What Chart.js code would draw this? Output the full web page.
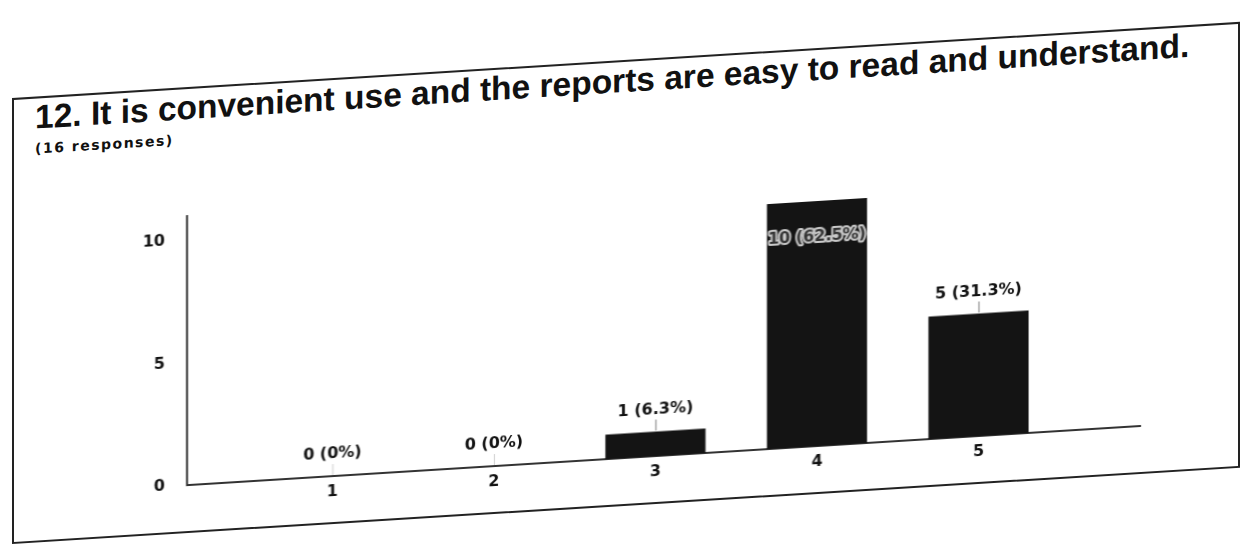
<!DOCTYPE html>
<html>
<head>
<meta charset="utf-8">
<script src="https://cdn.jsdelivr.net/npm/chart.js@4.4.1/dist/chart.umd.min.js"></script>
<style>
  html, body { margin: 0; background: #fff; }
  body { width: 1248px; height: 555px; overflow: hidden; position: relative; }
  /* the printed sheet sits slightly tilted */
  #sheet {
    position: absolute; left: 12px; top: 98px;
    width: 1228px; height: 446px; box-sizing: border-box;
    border: 2px solid #222;
    transform-origin: 0 0; transform: skewY(-3.55deg);
  }
  #title {
    position: absolute; left: 21px; top: 1.5px; white-space: nowrap;
    font: bold 33.5px/1 "Liberation Sans", Arial, sans-serif; color: #111;
  }
  #sub {
    position: absolute; left: 21px; top: 42.5px; white-space: nowrap;
    font: bold 14px/1 "DejaVu Sans", sans-serif; letter-spacing: 1.5px; color: #111;
  }
  #chart { position: absolute; left: 0; top: 0; }
</style>
</head>
<body>
<div id="sheet">
  <div id="title">12. It is convenient use and the reports are easy to read and understand.</div>
  <div id="sub">(16 responses)</div>
  <canvas id="chart" width="1224" height="442"></canvas>
</div>
<script>
const answers = ['1', '2', '3', '4', '5'];
const counts = [0, 0, 1, 10, 5];
const percents = ['0%', '0%', '6.3%', '62.5%', '31.3%'];
const yTicks = [0, 5, 10];

const tickFont = { family: 'DejaVu Sans', size: 16, weight: 'bold' };

// "n (p%)" above each bar, with a short leader line; put inside when it won't fit
const barLabels = {
  id: 'barLabels',
  afterDatasetsDraw(chart) {
    const ctx = chart.ctx;
    const top = chart.chartArea.top;
    ctx.save();
    ctx.font = 'bold 16px "DejaVu Sans"';
    ctx.textAlign = 'center';
    ctx.textBaseline = 'middle';
    ctx.lineJoin = 'round';
    chart.getDatasetMeta(0).data.forEach((bar, i) => {
      const text = counts[i] + ' (' + percents[i] + ')';
      let y = bar.y - 22;
      const inside = y - 10 < top;
      if (inside) {
        y = bar.y + 36;
      } else {
        ctx.strokeStyle = counts[i] ? '#777' : '#ccc';
        ctx.lineWidth = 1;
        ctx.beginPath();
        ctx.moveTo(bar.x + 0.5, bar.y - 1);
        ctx.lineTo(bar.x + 0.5, bar.y - 12);
        ctx.stroke();
      }
      ctx.lineWidth = 4;
      ctx.strokeStyle = inside ? '#c9c9c9' : '#fff';
      ctx.strokeText(text, bar.x, y);
      ctx.fillStyle = inside ? '#333' : '#111';
      ctx.fillText(text, bar.x, y);
    });
    ctx.restore();
  }
};

new Chart(document.getElementById('chart'), {
  type: 'bar',
  data: {
    datasets: [{
      data: answers.map((a, i) => ({ x: Number(a), y: counts[i] })),
      backgroundColor: '#141414',
      barPercentage: 0.62,
      categoryPercentage: 1
    }]
  },
  options: {
    responsive: false,
    animation: false,
    layout: { padding: { top: 126.5, right: 98, bottom: 6, left: 0 } },
    plugins: { legend: { display: false }, tooltip: { enabled: false } },
    scales: {
      x: {
        type: 'linear',
        offset: false,
        min: 0.1,
        max: 6,
        afterBuildTicks: axis => { axis.ticks = answers.map(a => ({ value: Number(a) })); },
        afterFit: scale => { scale.height = 40; },
        grid: { display: false, drawTicks: false },
        border: { display: true, color: '#333', width: 2 },
        ticks: { color: '#111', font: tickFont, padding: 6, callback: v => String(v) }
      },
      y: {
        min: 0,
        max: 11,
        afterBuildTicks: axis => { axis.ticks = yTicks.map(v => ({ value: v })); },
        afterFit: scale => { scale.width = 173; },
        grid: { display: false, drawTicks: false },
        border: { display: true, color: '#333', width: 2 },
        ticks: { color: '#111', font: tickFont, padding: 22 }
      }
    }
  },
  plugins: [barLabels]
});
</script>
</body>
</html>
